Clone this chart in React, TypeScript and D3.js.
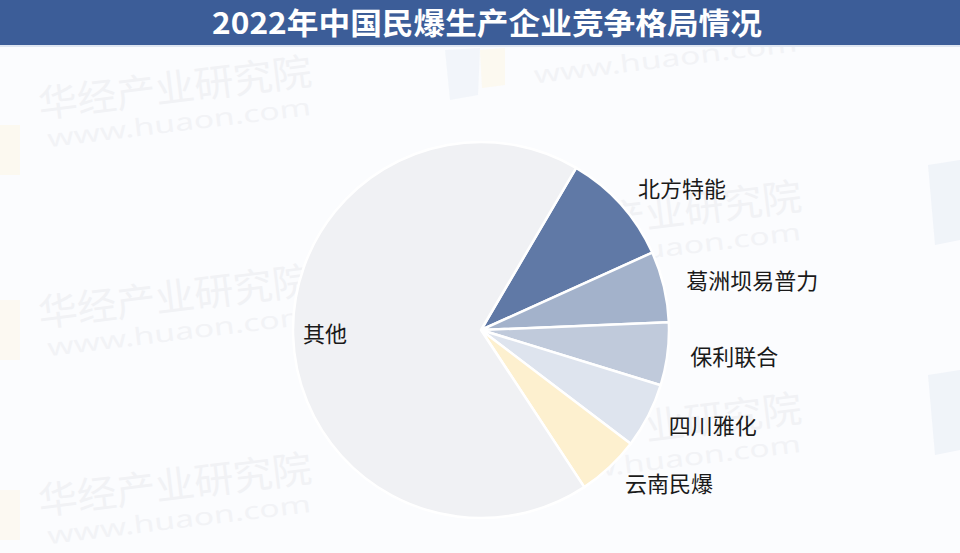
import React from "react";
import * as d3 from "d3";

const TITLE = "2022年中国民爆生产企业竞争格局情况";
const companies = ["北方特能", "葛洲坝易普力", "保利联合", "四川雅化", "云南民爆", "其他"];
const shares = [9.8, 6.1, 5.4, 5.6, 5.4, 67.7];
const colors = ["#6079a6", "#a3b2cb", "#c0cadb", "#dee4ee", "#fdf0cf", "#f0f1f4"];
const WATERMARK = "华经产业研究院";
const WATERMARK_URL = "www.huaon.com";

const W = 960;
const H = 553;

export default function App() {
  const cx = 481;
  const cy = 330;
  const r = 188;
  const startDeg = 30.4;
  const pie = d3
    .pie<number>()
    .sort(null)
    .value((d) => d)
    .startAngle((startDeg * Math.PI) / 180)
    .endAngle((startDeg * Math.PI) / 180 + 2 * Math.PI);
  const arcs = pie(shares);
  const arcGen = d3.arc<d3.PieArcDatum<number>>().innerRadius(0).outerRadius(r);

  const wmPositions = [
    { x: 40, y: 118, a: -7, main: true },
    { x: 40, y: 327, a: -7, main: true },
    { x: 40, y: 515, a: -7, main: true },
    { x: 530, y: 243, a: -7, main: true },
    { x: 530, y: 455, a: -7, main: true },
    { x: 530, y: 84, a: -7, main: false },
  ];

  return (
    <svg width={W} height={H} style={{ position: "absolute", left: 0, top: 0, display: "block" }}>
      <rect x={0} y={0} width={W} height={H} fill="#fbfcfe" />
      {/* faint watermark logo shapes */}
      <rect x={0} y={125} width={20} height={50} fill="#fdf6e6" opacity={0.6} />
      <rect x={0} y={300} width={20} height={60} fill="#fdf6e6" opacity={0.5} />
      <rect x={0} y={490} width={20} height={50} fill="#fdf6e6" opacity={0.5} />
      <polygon points="928,165 960,160 960,240 935,245" fill="#edf1f8" opacity={0.8} />
      <polygon points="928,375 960,370 960,450 935,455" fill="#edf1f8" opacity={0.8} />
      <polygon points="445,50 480,48 478,95 450,100" fill="#eef2f8" opacity={0.7} />
      <polygon points="480,50 505,48 505,85 482,88" fill="#fdf6e6" opacity={0.6} />
      {wmPositions.map((p, i) => (
        <g key={i} transform={`translate(${p.x},${p.y}) rotate(${p.a})`}>
          {p.main && (
            <text
              x={0}
              y={0}
              fontFamily="Noto Sans CJK SC"
              fontSize={38}
              fill="#f1f2f5"
              textLength={275}
              lengthAdjust="spacingAndGlyphs"
            >
              {WATERMARK}
            </text>
          )}
          <text
            x={5}
            y={p.main ? 30 : 0}
            fontFamily="Noto Sans"
            fontSize={24}
            fill="#f2f3f6"
            textLength={265}
            lengthAdjust="spacingAndGlyphs"
          >
            {WATERMARK_URL}
          </text>
        </g>
      ))}

      {/* title bar */}
      <rect x={0} y={0} width={W} height={45} fill="#3c5d98" />
      <rect x={0} y={45} width={W} height={2} fill="#dfe6f1" />
      <text
        x={487}
        y={34}
        textAnchor="middle"
        fontFamily="Noto Sans CJK SC"
        fontWeight="bold"
        fontSize={30}
        fill="#ffffff"
        textLength={550}
        lengthAdjust="spacingAndGlyphs"
      >
        {TITLE}
      </text>

      {/* pie */}
      <g transform={`translate(${cx},${cy})`}>
        {arcs.map((a, i) => (
          <path key={i} d={arcGen(a) || ""} fill={colors[i]} stroke="#ffffff" strokeWidth={2.5} strokeLinejoin="round" />
        ))}
        {arcs.map((a, i) => {
          const mid = (a.startAngle + a.endAngle) / 2;
          const isOther = i === companies.length - 1;
          const lr = isOther ? 156 : 211;
          const x = lr * Math.sin(mid);
          const y = -lr * Math.cos(mid);
          return (
            <text
              key={"l" + i}
              x={x}
              y={y}
              dy="0.36em"
              textAnchor={isOther ? "middle" : "start"}
              fontFamily="Noto Sans CJK SC"
              fontSize={22}
              fill="#1a1a1a"
            >
              {companies[i]}
            </text>
          );
        })}
      </g>
    </svg>
  );
}
